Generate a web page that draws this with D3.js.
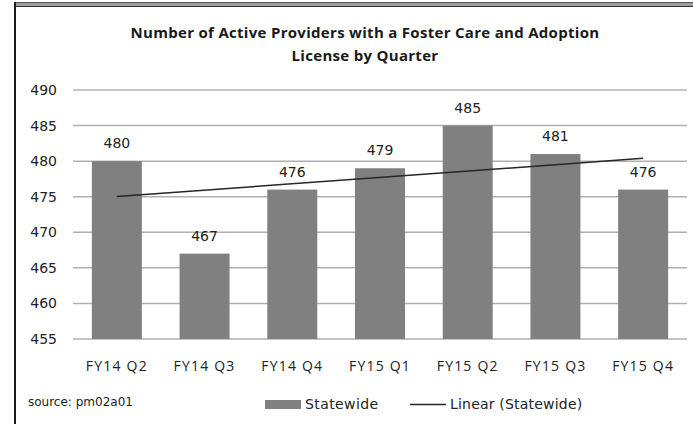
<!DOCTYPE html>
<html><head><meta charset="utf-8">
<script src="https://cdn.jsdelivr.net/npm/d3@7"></script>
<style>body{margin:0;background:#fff}svg{display:block}</style>
</head><body>
<svg id="c" width="693" height="424"></svg>
<script>
const categories = ["FY14 Q2","FY14 Q3","FY14 Q4","FY15 Q1","FY15 Q2","FY15 Q3","FY15 Q4"];
const values = [480,467,476,479,485,481,476];
const yTicks = [455,460,465,470,475,480,485,490];
const titleLines = ["Number of Active Providers with a Foster Care and Adoption","License by Quarter"];
const seriesName = "Statewide";
const trendName = "Linear (Statewide)";
const sourceText = "source: pm02a01";

const svg = d3.select("#c");
// frame
svg.append("rect").attr("x",14).attr("y",2).attr("width",679).attr("height",5).attr("fill","#a0a0a0");
svg.append("line").attr("x1",14).attr("x2",693).attr("y1",2.5).attr("y2",2.5).attr("stroke","#555").attr("stroke-width",1);
svg.append("line").attr("x1",14).attr("x2",693).attr("y1",6.5).attr("y2",6.5).attr("stroke","#333").attr("stroke-width",1);
svg.append("line").attr("x1",15).attr("x2",15).attr("y1",2).attr("y2",424).attr("stroke","#1a1a1a").attr("stroke-width",2);

// title
const title = svg.append("text").attr("text-anchor","middle")
  .attr("font-family","'Open Sans', sans-serif").attr("font-weight","bold").attr("font-size",15)
  .attr("letter-spacing",0.3).attr("fill","#1a1a1a");
titleLines.forEach((t,i)=>title.append("tspan").attr("x",365).attr("y",38+i*23).text(t));

const x = d3.scaleBand().domain(categories).range([73,687]).paddingInner(0.43).paddingOuter(0.215);
const y = d3.scaleLinear().domain([455,490]).range([339,90]);

// gridlines
svg.append("g").selectAll("line").data(yTicks).join("line")
  .attr("x1",73).attr("x2",687).attr("y1",d=>y(d)).attr("y2",d=>y(d))
  .attr("stroke","#b0b0b0").attr("stroke-width",1.5);

// y axis labels
const yAxis = svg.append("g").attr("transform","translate(65,0)")
  .call(d3.axisLeft(y).tickValues(yTicks).tickSize(0).tickPadding(8));
yAxis.select(".domain").remove();
yAxis.selectAll("text").attr("font-family","'DejaVu Sans', sans-serif").attr("font-size",14).attr("fill","#222");

// bars
svg.append("g").selectAll("rect").data(values).join("rect")
  .attr("x",(d,i)=>x(categories[i])).attr("width",x.bandwidth())
  .attr("y",d=>y(d)).attr("height",d=>y(455)-y(d)).attr("fill","#808080");

// data labels
svg.append("g").selectAll("text").data(values).join("text")
  .attr("x",(d,i)=>x(categories[i])+x.bandwidth()/2).attr("y",d=>y(d)-13)
  .attr("text-anchor","middle").attr("font-family","'DejaVu Sans', sans-serif").attr("font-size",14).attr("fill","#222")
  .text(d=>d);

// trend line (least squares)
const n = values.length, xs = d3.range(1,n+1);
const mx = d3.mean(xs), my = d3.mean(values);
const slope = d3.sum(xs,(v,i)=>(v-mx)*(values[i]-my))/d3.sum(xs,v=>(v-mx)**2);
const icpt = my - slope*mx;
const cx = i=>x(categories[i])+x.bandwidth()/2;
svg.append("line").attr("x1",cx(0)).attr("y1",y(icpt+slope*1))
  .attr("x2",cx(n-1)).attr("y2",y(icpt+slope*n)).attr("stroke","#262626").attr("stroke-width",1.5);

// x axis labels
const xAxis = svg.append("g").attr("transform","translate(0,352)")
  .call(d3.axisBottom(x).tickSize(0).tickPadding(9));
xAxis.select(".domain").remove();
xAxis.selectAll("text").attr("font-family","'Open Sans', sans-serif").attr("font-size",14).attr("letter-spacing",1.2).attr("fill","#222");

// legend
const lg = svg.append("g");
lg.append("rect").attr("x",265).attr("y",400).attr("width",36).attr("height",9).attr("fill","#808080");
lg.append("text").attr("x",305).attr("y",409).attr("font-family","'DejaVu Sans', sans-serif").attr("font-size",14).attr("letter-spacing",0.4).attr("fill","#222").text(seriesName);
lg.append("line").attr("x1",410).attr("x2",446).attr("y1",404.5).attr("y2",404.5).attr("stroke","#262626").attr("stroke-width",1.5);
lg.append("text").attr("x",450).attr("y",409).attr("font-family","'DejaVu Sans', sans-serif").attr("font-size",14).attr("letter-spacing",0.2).attr("fill","#222").text(trendName);

// source
svg.append("text").attr("x",28).attr("y",406).attr("font-family","'DejaVu Sans', sans-serif").attr("font-size",12).attr("fill","#222").text(sourceText);
</script>
</body></html>
